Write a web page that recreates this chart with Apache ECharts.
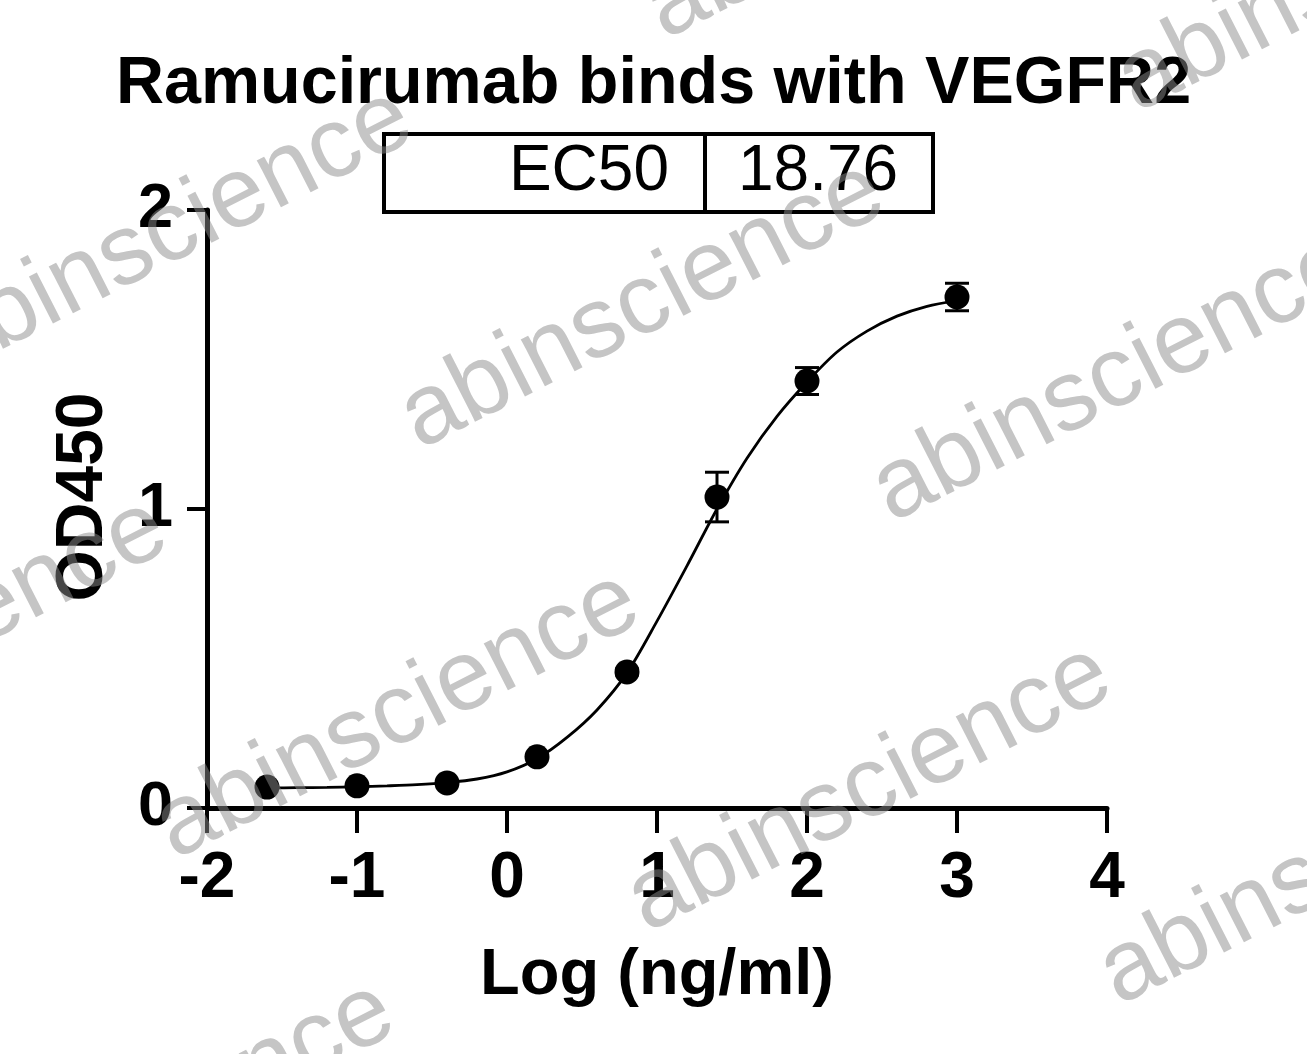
<!DOCTYPE html>
<html>
<head>
<meta charset="utf-8">
<script src="https://cdn.jsdelivr.net/npm/echarts@6/dist/echarts.min.js"></script>
<style>
html,body{margin:0;padding:0;background:#fff;}
#chart{width:1307px;height:1054px;}
</style>
</head>
<body>
<div id="chart"></div>
<script>
// ---- data ----
var titleText = "Ramucirumab binds with VEGFR2";
var xAxisName = "Log (ng/ml)";
var yAxisName = "OD450";
var ec50Label = "EC50";
var ec50Value = "18.76";

var pointX = [-1.6, -1.0, -0.4, 0.2, 0.8, 1.4, 2.0, 3.0];
var pointY = [0.070, 0.074, 0.084, 0.171, 0.455, 1.040, 1.428, 1.709];
var pointErr = [0.004, 0.004, 0.005, 0.006, 0.010, 0.083, 0.045, 0.046];

var curveX = [-1.6, -1.4, -1.2, -1.0, -0.8, -0.6, -0.4, -0.2, 0.0, 0.2, 0.4, 0.6, 0.8, 1.0, 1.2, 1.4, 1.6, 1.8, 2.0, 2.2, 2.4, 2.6, 2.8, 3.0];
var curveY = [0.067, 0.068, 0.069, 0.071, 0.074, 0.078, 0.085, 0.097, 0.121, 0.165, 0.236, 0.328, 0.452, 0.625, 0.810, 1.000, 1.170, 1.310, 1.425, 1.525, 1.595, 1.645, 1.678, 1.697];

var xTicks = [-2, -1, 0, 1, 2, 3, 4];
var yTicks = [0, 1, 2];

var watermarkText = "abinscience";

// ---- chart ----
var chart = echarts.init(document.getElementById('chart'), null, {renderer: 'canvas'});
var FONT = '"Liberation Sans", Arial, sans-serif';

var curveData = curveX.map(function (x, i) { return [x, curveY[i]]; });
var pointData = pointX.map(function (x, i) { return [x, pointY[i]]; });
var errData = pointX.map(function (x, i) { return [x, pointY[i] - pointErr[i], pointY[i] + pointErr[i]]; });

// watermark placements (styling only)
var wmPos = [[675, 60], [1147, 133], [-42, 397], [430, 470], [902, 543], [-287, 807], [185, 880], [657, 953], [1129, 1026], [-60, 1290], [412, 1363]];
var wmAngle = 27 * Math.PI / 180;
var watermarks = wmPos.map(function (p) {
  return {
    type: 'text', x: p[0], y: p[1], rotation: wmAngle, z: 100, silent: true,
    style: {
      text: watermarkText, font: '100px ' + FONT, fill: 'rgba(140,140,140,0.5)',
      textAlign: 'left', textVerticalAlign: 'bottom'
    }
  };
});

var option = {
  backgroundColor: '#ffffff',
  animation: false,
  title: {
    text: titleText, left: 'center', top: 46,
    textStyle: {fontFamily: FONT, fontSize: 66.5, fontWeight: 'bold', color: '#000'}
  },
  grid: {left: 207, right: 200, top: 210, bottom: 246, containLabel: false},
  xAxis: {
    type: 'value', min: xTicks[0], max: xTicks[xTicks.length - 1], interval: 1,
    name: xAxisName, nameLocation: 'middle', nameGap: 136,
    nameTextStyle: {fontFamily: FONT, fontSize: 65, fontWeight: 'bold', color: '#000'},
    axisLine: {show: true, onZero: false, lineStyle: {color: '#000', width: 5}},
    axisTick: {show: true, inside: false, length: 25, lineStyle: {color: '#000', width: 4}},
    axisLabel: {margin: 39, fontFamily: FONT, fontSize: 64, fontWeight: 'bold', color: '#000'},
    splitLine: {show: false}
  },
  yAxis: {
    type: 'value', min: yTicks[0], max: yTicks[yTicks.length - 1], interval: 1,
    axisLine: {show: true, onZero: false, lineStyle: {color: '#000', width: 5}},
    axisTick: {show: true, inside: false, length: 20, lineStyle: {color: '#000', width: 4}},
    axisLabel: {margin: 34, fontFamily: FONT, fontSize: 63, fontWeight: 'bold', color: '#000'},
    splitLine: {show: false}
  },
  series: [
    {
      type: 'line', data: curveData, smooth: 0.3, showSymbol: false, symbol: 'none',
      lineStyle: {color: '#000', width: 2.8}, z: 2
    },
    {
      type: 'custom', z: 3,
      renderItem: function (params, api) {
        var x = api.value(0);
        var lo = api.coord([x, api.value(1)]);
        var hi = api.coord([x, api.value(2)]);
        var hw = 12;
        var st = {stroke: '#000', lineWidth: 3};
        return {
          type: 'group',
          children: [
            {type: 'line', shape: {x1: lo[0], y1: lo[1], x2: hi[0], y2: hi[1]}, style: st},
            {type: 'line', shape: {x1: lo[0] - hw, y1: lo[1], x2: lo[0] + hw, y2: lo[1]}, style: st},
            {type: 'line', shape: {x1: hi[0] - hw, y1: hi[1], x2: hi[0] + hw, y2: hi[1]}, style: st}
          ]
        };
      },
      encode: {x: 0, y: [1, 2]},
      data: errData
    },
    {
      type: 'scatter', data: pointData, symbol: 'circle', symbolSize: 25,
      itemStyle: {color: '#000', opacity: 1}, z: 4
    }
  ],
  graphic: [
    {type: 'rect', shape: {x: 384, y: 134, width: 549, height: 78}, style: {fill: 'none', stroke: '#000', lineWidth: 4}, z: 10},
    {type: 'line', shape: {x1: 705, y1: 134, x2: 705, y2: 212}, style: {stroke: '#000', lineWidth: 4}, z: 10},
    {type: 'text', x: 669, y: 172, z: 10, style: {text: ec50Label, font: '64px ' + FONT, fill: '#000', textAlign: 'right', textVerticalAlign: 'middle'}},
    {type: 'text', x: 738, y: 172, z: 10, style: {text: ec50Value, font: '64px ' + FONT, fill: '#000', textAlign: 'left', textVerticalAlign: 'middle'}},
    {type: 'text', x: 84, y: 497, rotation: Math.PI / 2, z: 10, style: {text: yAxisName, font: 'bold 66px ' + FONT, fill: '#000', textAlign: 'center', textVerticalAlign: 'middle'}}
  ].concat(watermarks)
};
chart.setOption(option);
</script>
</body>
</html>
